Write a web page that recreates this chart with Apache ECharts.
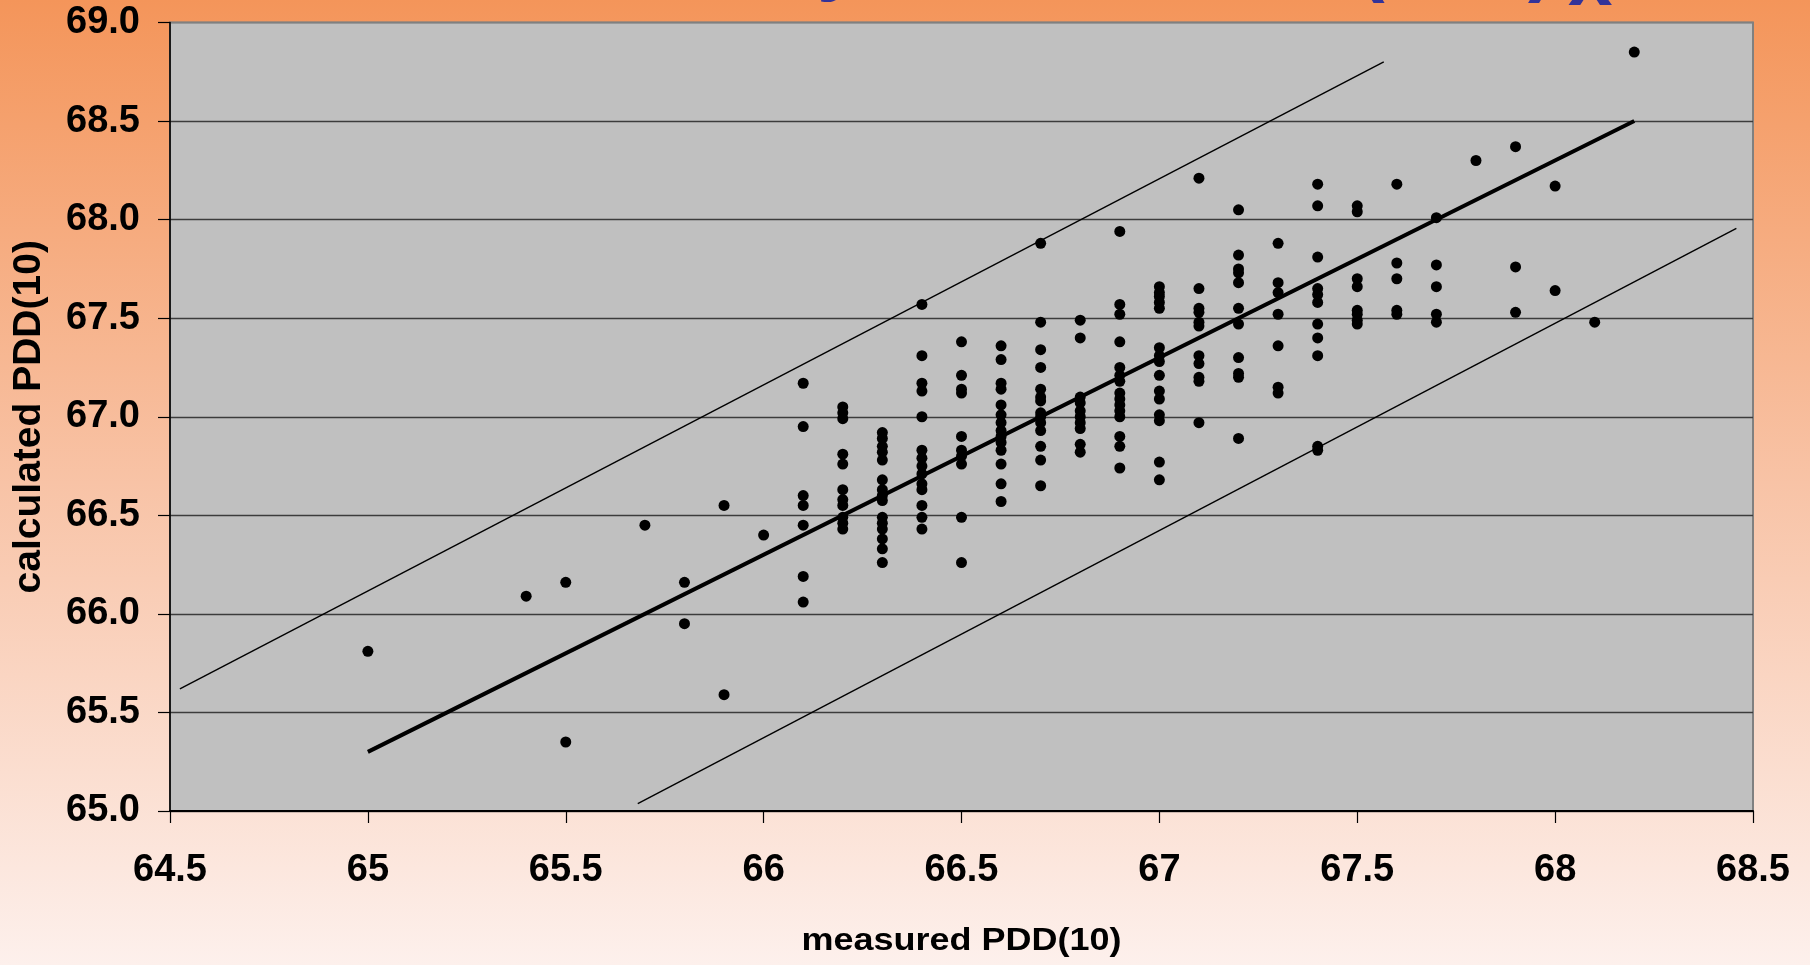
<!DOCTYPE html>
<html>
<head>
<meta charset="utf-8">
<script src="https://cdn.jsdelivr.net/npm/echarts@6/dist/echarts.min.js"></script>
<style>
  html, body { margin: 0; padding: 0; }
  #chart { width: 1810px; height: 965px; background: linear-gradient(to bottom, #F4955A 0%, #F8C3A6 50%, #FDF0EC 100%); }
</style>
</head>
<body>
<div id="chart"></div>
<script>
// measured PDD(10) columns
const measured = [65.0, 65.4, 65.5, 65.7, 65.8, 65.9, 66.0, 66.1, 66.2, 66.3, 66.4, 66.5, 66.6, 66.7,
                  66.8, 66.9, 67.0, 67.1, 67.2, 67.3, 67.4, 67.5, 67.6, 67.7, 67.8, 67.9, 68.0, 68.1, 68.2];
// calculated PDD(10) values for each measured column
const calculated = [
  [65.81],
  [66.09],
  [66.16, 65.35],
  [66.45],
  [66.16, 65.95],
  [66.55, 65.59],
  [66.40],
  [67.17, 66.95, 66.60, 66.55, 66.45, 66.19, 66.06],
  [67.05, 67.02, 66.99, 66.81, 66.76, 66.63, 66.58, 66.55, 66.49, 66.46, 66.43],
  [66.92, 66.89, 66.85, 66.82, 66.78, 66.68, 66.63, 66.60, 66.575, 66.49, 66.46, 66.43, 66.38, 66.33, 66.26],
  [67.57, 67.31, 67.17, 67.13, 67.00, 66.83, 66.79, 66.75, 66.71, 66.66, 66.63, 66.55, 66.49, 66.43],
  [67.38, 67.21, 67.14, 67.12, 66.90, 66.83, 66.80, 66.76, 66.49, 66.26],
  [67.36, 67.29, 67.17, 67.14, 67.06, 67.01, 66.97, 66.93, 66.90, 66.87, 66.83, 66.76, 66.66, 66.57],
  [67.88, 67.48, 67.34, 67.25, 67.14, 67.10, 67.08, 67.02, 67.00, 66.97, 66.93, 66.85, 66.78, 66.65],
  [67.49, 67.40, 67.10, 67.07, 67.03, 67.00, 66.97, 66.94, 66.86, 66.82],
  [67.94, 67.57, 67.52, 67.38, 67.25, 67.21, 67.18, 67.12, 67.09, 67.06, 67.03, 67.00, 66.90, 66.85, 66.74],
  [67.66, 67.63, 67.61, 67.58, 67.55, 67.35, 67.31, 67.28, 67.21, 67.13, 67.09, 67.01, 66.98, 66.77, 66.68],
  [68.21, 67.65, 67.55, 67.53, 67.48, 67.46, 67.31, 67.27, 67.20, 67.18, 66.97],
  [68.05, 67.82, 67.75, 67.73, 67.68, 67.55, 67.47, 67.30, 67.22, 67.20, 66.89],
  [67.88, 67.68, 67.63, 67.52, 67.36, 67.15, 67.12],
  [68.18, 68.07, 67.81, 67.65, 67.62, 67.58, 67.47, 67.40, 67.31, 66.85, 66.83],
  [68.07, 68.04, 67.70, 67.66, 67.54, 67.52, 67.49, 67.47],
  [68.18, 67.78, 67.70, 67.54, 67.52],
  [68.01, 67.77, 67.66, 67.52, 67.48],
  [68.30],
  [68.37, 67.76, 67.53],
  [68.17, 67.64],
  [67.48],
  [68.85]
];
// reference lines (endpoints)
const trendLine = [[65.0, 65.3], [68.2, 68.5]];
const upperLine = [[64.525, 65.62], [67.567, 68.80]];
const lowerLine = [[65.682, 65.037], [68.458, 67.956]];

const xTicks = ['64.5', '65', '65.5', '66', '66.5', '67', '67.5', '68', '68.5'];
const yTicks = ['65.0', '65.5', '66.0', '66.5', '67.0', '67.5', '68.0', '68.5', '69.0'];

const points = [];
measured.forEach((m, i) => calculated[i].forEach(c => points.push([m, c])));

const FONT = '"Liberation Sans", Arial, sans-serif';
const chart = echarts.init(document.getElementById('chart'));
const splitColors = ['#3c3c3c','#3c3c3c','#3c3c3c','#3c3c3c','#3c3c3c','#3c3c3c','#3c3c3c','#3c3c3c','#808080'];

chart.setOption({
  animation: false,
  backgroundColor: 'transparent',
  grid: {
    left: 170, right: 57, top: 22.5, bottom: 154,
    show: true, backgroundColor: '#C0C0C0', borderColor: '#808080', borderWidth: 2
  },
  xAxis: {
    type: 'value', min: 64.5, max: 68.5, interval: 0.5,
    axisLine: { show: true, onZero: false, lineStyle: { color: '#000', width: 2 } },
    axisTick: { show: true, length: 12, lineStyle: { color: '#000', width: 1.2 } },
    axisLabel: {
      margin: 41, color: '#000', fontSize: 38, fontWeight: 'bold', fontFamily: FONT,
      formatter: v => xTicks[Math.round((v - 64.5) / 0.5)]
    },
    splitLine: { show: false }
  },
  yAxis: {
    type: 'value', min: 65, max: 69, interval: 0.5,
    name: 'calculated PDD(10)', nameLocation: 'middle', nameRotate: 90, nameGap: 121,
    nameTextStyle: { color: '#000', fontSize: 39, fontWeight: 'bold', fontFamily: FONT },
    axisLine: { show: true, onZero: false, lineStyle: { color: '#000', width: 1.6 } },
    axisTick: { show: true, length: 12, lineStyle: { color: '#000', width: 1.2 } },
    axisLabel: {
      margin: 30, color: '#000', fontSize: 38, fontWeight: 'bold', fontFamily: FONT,
      formatter: v => yTicks[Math.round((v - 65) / 0.5)]
    },
    splitLine: { show: true, lineStyle: { color: splitColors, width: 1.3 } }
  },
  graphic: [
    { type: 'text', x: 961.5, y: 941, scaleY: 0.88, z: 10,
      style: { text: 'measured PDD(10)', fill: '#000', font: 'bold 36px ' + FONT, align: 'center', verticalAlign: 'middle' } },
    { type: 'text', left: 817, top: -77, z: 10,
      style: { text: 'y', fill: '#333399', font: 'bold 80px ' + FONT } },
    { type: 'text', left: 1358, top: -76, z: 10,
      style: { text: '(', fill: '#333399', font: 'bold 80px ' + FONT } },
    { type: 'text', left: 1528, top: -76, z: 10,
      style: { text: ')', fill: '#333399', font: 'bold 80px ' + FONT } },
    { type: 'text', left: 1568, top: -57, z: 10,
      style: { text: 'x', fill: '#333399', font: 'bold 80px ' + FONT } }
  ],
  series: [
    { type: 'line', data: upperLine, symbol: 'none', silent: true,
      lineStyle: { color: '#000', width: 1.4 }, z: 2 },
    { type: 'line', data: lowerLine, symbol: 'none', silent: true,
      lineStyle: { color: '#000', width: 1.4 }, z: 2 },
    { type: 'line', data: trendLine, symbol: 'none', silent: true,
      lineStyle: { color: '#000', width: 4 }, z: 2 },
    { type: 'scatter', data: points, symbol: 'circle', symbolSize: 11,
      itemStyle: { color: '#000', opacity: 1 }, z: 3 }
  ]
});
</script>
</body>
</html>
